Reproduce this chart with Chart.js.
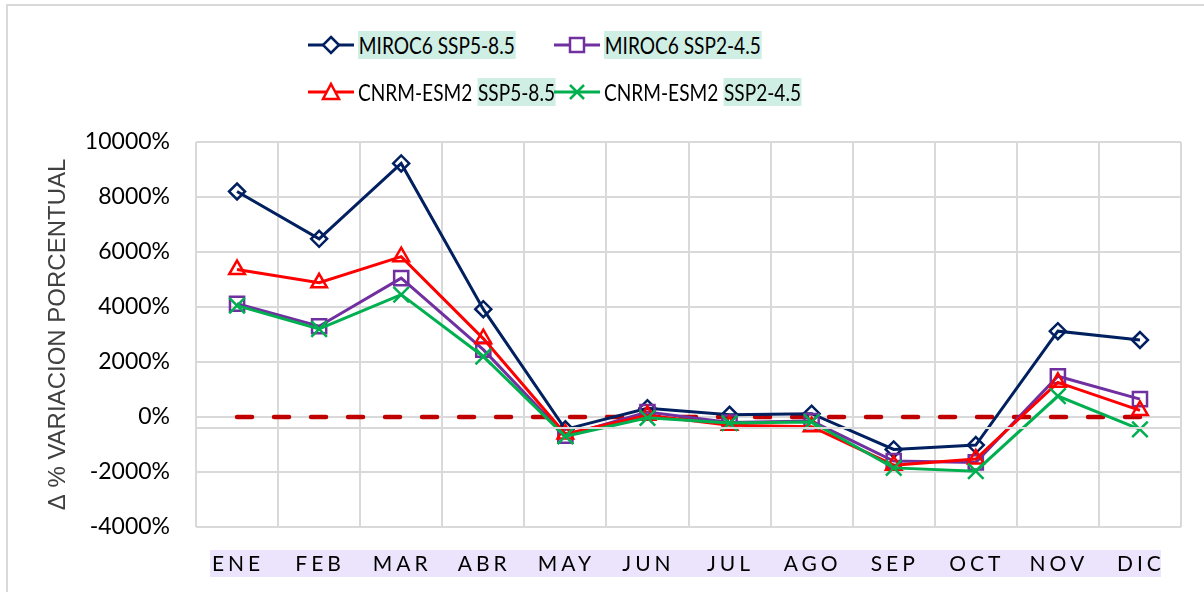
<!DOCTYPE html>
<html>
<head>
<meta charset="utf-8">
<script src="https://cdn.jsdelivr.net/npm/chart.js@4/dist/chart.umd.min.js"></script>
<style>
  html, body { margin: 0; padding: 0; background: #fff; }
  #wrap { position: relative; width: 1204px; height: 592px; overflow: hidden; }
  #frame { position: absolute; left: 6px; top: 4px; width: 1300px; height: 700px;
           border-left: 2px solid #d9d9d9; border-top: 2px solid #d9d9d9; }
  #chart { position: absolute; left: 0; top: 0; }
  .legend-item { position: absolute; display: flex; align-items: center; height: 30px;
                 font-family: Lato, "Open Sans", sans-serif; font-size: 23px; color: #000; white-space: pre; }
  .legend-item svg { margin-right: 4px; }
  .txt { display: inline-block; transform: scaleX(0.83); transform-origin: left center; }
  .hl { background: #cfeee4; padding: 0 1px; }
</style>
</head>
<body>
<div id="wrap">
  <div id="frame"></div>
  <canvas id="chart" width="1204" height="592"></canvas>
  <div class="legend-item" style="left:308px; top:30px;">
    <svg width="46" height="24"><line x1="0" y1="12" x2="46" y2="12" stroke="#002060" stroke-width="3"/>
      <polygon points="23,4 31,12 23,20 15,12" fill="#fff" stroke="#002060" stroke-width="2.5"/></svg><span class="txt"><span class="hl">MIROC6 SSP5-8.5</span></span>
  </div>
  <div class="legend-item" style="left:554px; top:30px;">
    <svg width="46" height="24"><line x1="0" y1="12" x2="46" y2="12" stroke="#7030a0" stroke-width="3"/>
      <rect x="16" y="5" width="14" height="14" fill="#fff" stroke="#7030a0" stroke-width="2.5"/></svg><span class="txt"><span class="hl">MIROC6 SSP2-4.5</span></span>
  </div>
  <div class="legend-item" style="left:308px; top:77px;">
    <svg width="46" height="24"><line x1="0" y1="12" x2="46" y2="12" stroke="#ff0000" stroke-width="3"/>
      <polygon points="23,4 31,19 15,19" fill="#fff" stroke="#ff0000" stroke-width="2.5"/></svg><span class="txt"><span>CNRM-ESM2 </span><span class="hl">SSP5-8.5</span></span>
  </div>
  <div class="legend-item" style="left:554px; top:77px;">
    <svg width="46" height="24"><line x1="0" y1="12" x2="46" y2="12" stroke="#00b050" stroke-width="3"/>
      <line x1="16" y1="5" x2="30" y2="19" stroke="#00b050" stroke-width="2.5"/>
      <line x1="30" y1="5" x2="16" y2="19" stroke="#00b050" stroke-width="2.5"/></svg><span class="txt"><span>CNRM-ESM2 </span><span class="hl">SSP2-4.5</span></span>
  </div>
</div>
<script>
// meses
const months = ["ENE", "FEB", "MAR", "ABR", "MAY", "JUN", "JUL", "AGO", "SEP", "OCT", "NOV", "DIC"];

// variacion porcentual por modelo / escenario
const miroc585 = [8200, 6480, 9220, 3920, -450, 320, 80, 120, -1180, -1020, 3120, 2800];
const miroc245 = [4120, 3300, 5050, 2450, -680, 180, -200, -150, -1600, -1650, 1480, 650];
const cnrm585 = [5360, 4880, 5830, 2850, -620, 60, -300, -350, -1750, -1530, 1260, 240];
const cnrm245 = [4050, 3200, 4450, 2200, -700, -30, -220, -180, -1850, -1970, 760, -450];
const zeroLine = [0, 0, 0, 0, 0, 0, 0, 0, 0, 0, 0, 0];

// eje y
const yMin = -4000;
const yMax = 10000;
const yStep = 2000;
const axisCross = -385; // linea horizontal del eje x

// fondo y etiquetas del eje x (con espaciado de letras)
const monthLabels = {
  id: "monthLabels",
  afterDraw(chart) {
    const ctx = chart.ctx;
    const x = chart.scales.x;
    const y = chart.scales.y;
    ctx.save();
    // linea del eje
    const ya = Math.round(y.getPixelForValue(axisCross));
    ctx.strokeStyle = "#d9d9d9";
    ctx.lineWidth = 2;
    ctx.beginPath();
    ctx.moveTo(chart.chartArea.left, ya);
    ctx.lineTo(chart.chartArea.right, ya);
    ctx.stroke();

    ctx.font = "21px Lato";
    ctx.letterSpacing = "4px";
    const x0 = x.getPixelForValue(0) - 27;
    const x1 = x.getPixelForValue(months.length - 1) + 21;
    ctx.fillStyle = "#ece4fc";
    ctx.fillRect(x0, 550, x1 - x0, 27);
    ctx.fillStyle = "#000";
    ctx.textAlign = "center";
    ctx.textBaseline = "middle";
    months.forEach((m, i) => {
      ctx.fillText(m, x.getPixelForValue(i) + 1, 564);
    });
    ctx.restore();
  }
};

function series(label, data, color, style, radius, order) {
  return {
    label: label,
    data: data,
    borderColor: color,
    backgroundColor: color,
    borderWidth: 3,
    pointStyle: style,
    pointRadius: radius,
    pointBorderWidth: 2.5,
    pointBackgroundColor: "transparent",
    pointBorderColor: color,
    tension: 0,
    order: order
  };
}

new Chart(document.getElementById("chart"), {
  type: "line",
  data: {
    labels: months,
    datasets: [
      {
        label: "0",
        data: zeroLine,
        borderColor: "#c00000",
        borderWidth: 4.5,
        borderDash: [15, 22],
        borderCapStyle: "round",
        pointRadius: 0,
        order: 5
      },
      series("MIROC6 SSP5-8.5", miroc585, "#002060", "rectRot", 8, 4),
      series("MIROC6 SSP2-4.5", miroc245, "#7030a0", "rect", 10, 3),
      series("CNRM-ESM2 SSP5-8.5", cnrm585, "#ff0000", "triangle", 9, 2),
      series("CNRM-ESM2 SSP2-4.5", cnrm245, "#00b050", "crossRot", 11, 1)
    ]
  },
  options: {
    responsive: false,
    animation: false,
    layout: { padding: { top: 142, right: 23, left: 0, bottom: 0 } },
    plugins: {
      legend: { display: false },
      tooltip: { enabled: false }
    },
    scales: {
      x: {
        offset: true,
        grid: { offset: true, color: "#d9d9d9", lineWidth: 2, drawTicks: false },
        border: { display: false },
        ticks: { display: false },
        afterFit: s => { s.height = 65; }
      },
      y: {
        min: yMin,
        max: yMax,
        grid: { color: "#d9d9d9", lineWidth: 2, drawTicks: false },
        border: { display: false },
        ticks: {
          stepSize: yStep,
          padding: 26,
          color: "#000",
          font: { family: "Lato", size: 23 },
          callback: v => v + "%"
        },
        title: {
          display: true,
          text: "Δ % VARIACION PORCENTUAL",
          color: "#404040",
          font: { family: "Liberation Sans", size: 24 },
          padding: { top: 44, bottom: 0 }
        },
        afterFit: s => { s.width = 196; }
      }
    }
  },
  plugins: [monthLabels]
});
</script>
</body>
</html>
